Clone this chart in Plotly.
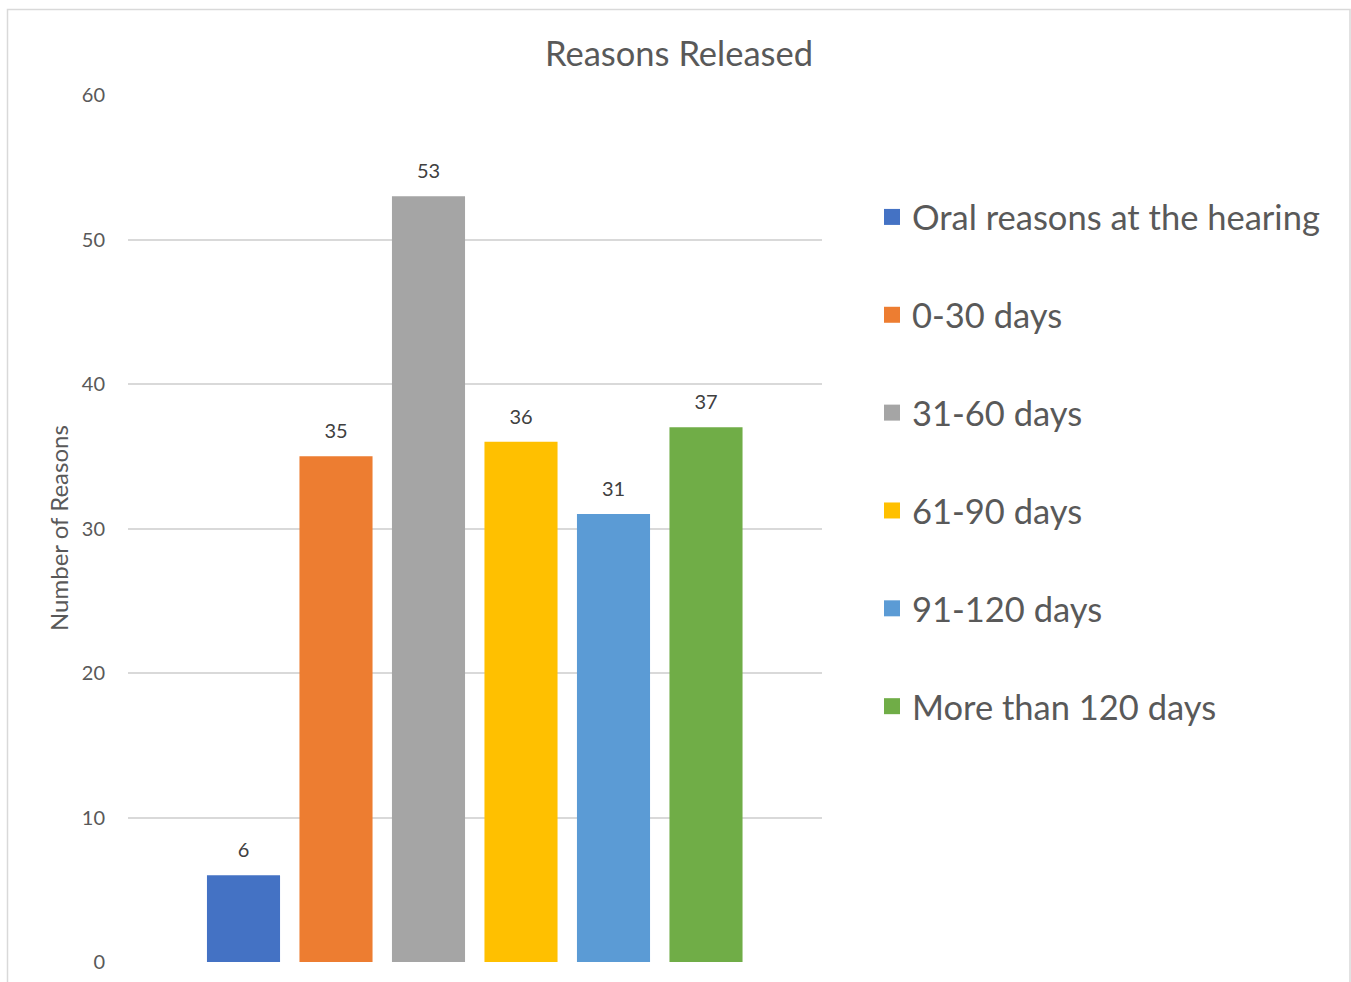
import plotly.graph_objects as go

series = ["Oral reasons at the hearing", "0-30 days", "31-60 days", "61-90 days",
          "91-120 days", "More than 120 days"]
values = [6, 35, 53, 36, 31, 37]
colors = ["#4472C4", "#ED7D31", "#A5A5A5", "#FFC000", "#5B9BD5", "#70AD47"]

W, H = 1351, 982
L, R, T, B = 128, 822, 95, 962
pw, ph = R - L, B - T

def px(x):
    return (x - L) / pw

def py(y):
    return (B - y) / ph

FONT = "Lato"
TXT = "#595959"

# bar slots: one unit per series; plot spans 7.5 units (Excel gap width)
pitch = 92.5
left_units = (243.5 - L) / pitch
xrange_ = [-left_units, -left_units + pw / pitch]

fig = go.Figure()
for i, (name, v, c) in enumerate(zip(series, values, colors)):
    fig.add_trace(go.Bar(
        x=[i], y=[v], name=name, width=0.79,
        marker=dict(color=c, line=dict(width=0)),
        showlegend=False, legendgroup=name, hoverinfo="y+name",
    ))
    fig.add_trace(go.Scatter(
        x=[i], y=[v], mode="markers+text", text=[str(v)], textposition="top center",
        textfont=dict(family=FONT, size=20, color="#404040"),
        marker=dict(size=19, color="rgba(0,0,0,0)"), cliponaxis=False,
        showlegend=False, legendgroup=name, hoverinfo="skip",
    ))
    fig.add_trace(go.Scatter(
        x=[None], y=[None], mode="markers", name=name, legendgroup=name,
        marker=dict(symbol="square", size=20, color=c), showlegend=True,
    ))

fig.update_layout(
    width=W, height=H,
    margin=dict(l=L, r=W - R, t=T, b=H - B, autoexpand=False),
    paper_bgcolor="white", plot_bgcolor="white",
    font=dict(family=FONT, color=TXT),
    xaxis=dict(range=xrange_, showticklabels=False, showgrid=False, zeroline=False,
               showline=False, ticks=""),
    yaxis=dict(range=[0, 60], dtick=10, showgrid=True, gridcolor="#d9d9d9", gridwidth=1.5,
               zeroline=False, showline=False, ticks="",
               tickfont=dict(family=FONT, size=20, color=TXT), ticklabelstandoff=22),
    legend=dict(x=px(872), xanchor="left", y=py(188), yanchor="top",
                font=dict(family=FONT, size=34.5, color=TXT),
                tracegroupgap=50, itemsizing="trace", bgcolor="rgba(0,0,0,0)"),
    annotations=[
        dict(text="Reasons Released", x=px(679), y=py(53), xref="paper", yref="paper",
             showarrow=False, xanchor="center", yanchor="middle",
             font=dict(family=FONT, size=34.5, color=TXT)),
        dict(text="Number of Reasons", x=px(58), y=py(528), xref="paper", yref="paper",
             showarrow=False, textangle=-90, xanchor="center", yanchor="middle",
             font=dict(family=FONT, size=24, color=TXT)),
    ],
    shapes=[dict(type="rect", xref="paper", yref="paper", x0=px(7.5), x1=px(1350),
                 y0=py(1000), y1=py(9.5), line=dict(color="#d9d9d9", width=1.5),
                 fillcolor="rgba(0,0,0,0)", layer="below")],
)

fig.write_html("out.html")
